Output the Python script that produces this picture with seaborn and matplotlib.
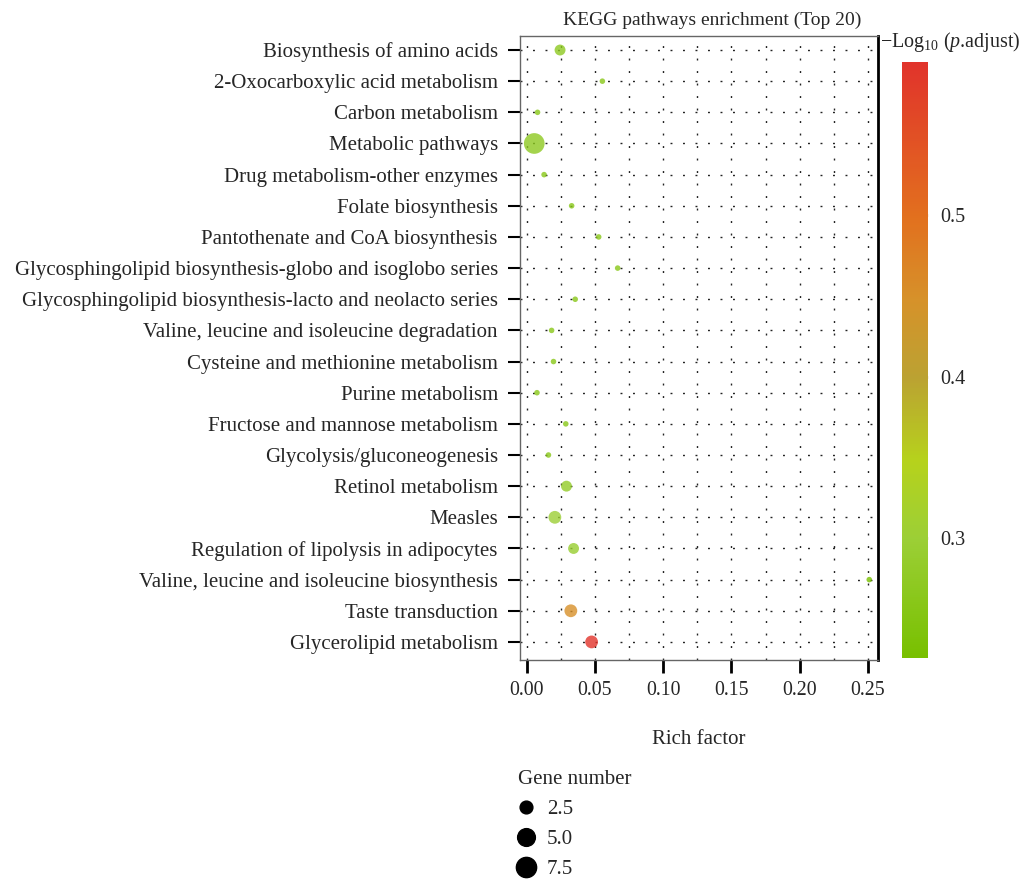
import numpy as np
import pandas as pd
import matplotlib
matplotlib.use("Agg")
import matplotlib.pyplot as plt
import seaborn as sns
from matplotlib.colors import LinearSegmentedColormap, Normalize
from matplotlib.cm import ScalarMappable
from matplotlib.lines import Line2D

# --- data ---
pathways = [
    "Biosynthesis of amino acids",
    "2-Oxocarboxylic acid metabolism",
    "Carbon metabolism",
    "Metabolic pathways",
    "Drug metabolism-other enzymes",
    "Folate biosynthesis",
    "Pantothenate and CoA biosynthesis",
    "Glycosphingolipid biosynthesis-globo and isoglobo series",
    "Glycosphingolipid biosynthesis-lacto and neolacto series",
    "Valine, leucine and isoleucine degradation",
    "Cysteine and methionine metabolism",
    "Purine metabolism",
    "Fructose and mannose metabolism",
    "Glycolysis/gluconeogenesis",
    "Retinol metabolism",
    "Measles",
    "Regulation of lipolysis in adipocytes",
    "Valine, leucine and isoleucine biosynthesis",
    "Taste transduction",
    "Glycerolipid metabolism",
]
rich_factor = [0.0245, 0.0555, 0.008, 0.0056, 0.0128, 0.033, 0.0528, 0.0667,
               0.0356, 0.0183, 0.0197, 0.0076, 0.0287, 0.016, 0.0292, 0.0207,
               0.0344, 0.251, 0.0324, 0.0476]
gene_number = [3, 1, 1, 10, 1, 1, 1, 1, 1, 1, 1, 1, 1, 1, 3, 4, 3, 1, 4, 4]
neg_log_padj = [0.27, 0.26, 0.26, 0.27, 0.26, 0.26, 0.26, 0.26, 0.26, 0.26,
                0.26, 0.26, 0.26, 0.26, 0.28, 0.30, 0.29, 0.226, 0.45, 0.595]

x_ticks = [0.00, 0.05, 0.10, 0.15, 0.20, 0.25]
cbar_ticks = [0.3, 0.4, 0.5]
legend_breaks = [2.5, 5.0, 7.5]
legend_marker_pt = [9.2, 12.8, 14.6]  # key sizes as drawn in the reference

df = pd.DataFrame({
    "pathway": pathways,
    "rich": rich_factor,
    "genes": gene_number,
    "padj": neg_log_padj,
})

sns.set_style("white")
plt.rcParams["font.family"] = ["Liberation Serif", "DejaVu Serif"]
plt.rcParams["mathtext.fontset"] = "custom"
plt.rcParams["mathtext.rm"] = "Liberation Serif"
plt.rcParams["mathtext.it"] = "Liberation Serif:italic"

cmap = LinearSegmentedColormap.from_list("kegg", [
    (0.0, "#78C000"), (0.2, "#9CCF36"), (0.33, "#B6D21C"),
    (0.47, "#BBA232"), (0.6, "#D6922A"), (0.74, "#E2701E"), (1.0, "#E1332B"),
])
norm = Normalize(vmin=min(neg_log_padj), vmax=max(neg_log_padj))

fig = plt.figure(figsize=(10.25, 8.81), dpi=100)
ax = fig.add_axes([520 / 1025, 1 - 660 / 881, 358 / 1025, 624 / 881])

# dotted grid: vertical every 0.025, horizontal at every category
for xv in np.arange(0, 0.2501, 0.025):
    ax.axvline(xv, color="#222222", lw=1.0, ls=(0, (1.4, 7.6)), zorder=0)
for i in range(len(pathways)):
    ax.axhline(i, color="#222222", lw=1.0, ls=(0, (1.4, 7.6)), zorder=0)

sns.scatterplot(
    data=df, x="rich", y="pathway", hue="padj", palette=cmap, hue_norm=norm,
    size="genes", sizes=(16, 222), size_norm=(1, 10),
    alpha=0.8, edgecolor="none", legend=False, ax=ax, zorder=3,
)

ax.set_xlim(-0.00484, 0.2574)
ax.set_ylim(len(pathways) - 1 + 0.58, -0.45)
ax.set_xticks(x_ticks)
ax.set_xticklabels([f"{t:.2f}" for t in x_ticks], fontsize=14.3)
ax.tick_params(axis="y", labelsize=15, length=9, width=1.5, color="black",
               direction="out", pad=7, left=True)
ax.tick_params(axis="x", length=9, width=2, color="black", direction="out",
               pad=6, bottom=True)
ax.set_xlabel("Rich factor", fontsize=15, labelpad=22)
ax.set_ylabel("")
ax.set_title("KEGG pathways enrichment (Top 20)", fontsize=14, pad=8,
             x=(712 - 520) / 358)

for side in ["left", "top", "bottom"]:
    ax.spines[side].set_color("#666666")
    ax.spines[side].set_linewidth(1.0)
ax.spines["right"].set_color("black")
ax.spines["right"].set_linewidth(2.0)

# colorbar
cax = fig.add_axes([902 / 1025, 1 - 658 / 881, 26 / 1025, 596 / 881])
cb = fig.colorbar(ScalarMappable(norm=norm, cmap=cmap), cax=cax)
cb.outline.set_visible(False)
cb.set_ticks(cbar_ticks)
cb.set_ticklabels([f"{t:.1f}" for t in cbar_ticks])
cax.tick_params(axis="y", direction="in", left=True, right=True,
                color="#F2E6DA", length=5, width=2, labelsize=14.5, pad=8.6)
fig.text(880 / 1025, 1 - 42 / 881, r"$-$Log$_{10}$ ($p$.adjust)", fontsize=14.4,
         ha="left", va="center")

# size legend
handles = [Line2D([], [], marker="o", ls="", color="black", markersize=m)
           for m in legend_marker_pt]
leg = fig.legend(handles, [f"{b:.1f}" for b in legend_breaks], title="Gene number",
                 loc="upper left", bbox_to_anchor=(508 / 1025, 1 - 760 / 881),
                 frameon=False, fontsize=15, title_fontsize=15,
                 handletextpad=0.6, labelspacing=0.5, alignment="left",
                 handlelength=0.77, borderpad=0)

fig.savefig("out.png", dpi=100)
